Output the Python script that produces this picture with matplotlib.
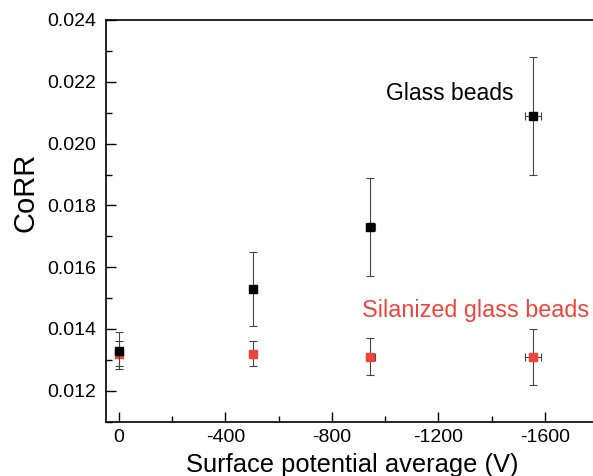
import matplotlib
matplotlib.use("Agg")
import matplotlib.pyplot as plt
from matplotlib.ticker import MultipleLocator

plt.rcParams['font.family'] = ['Liberation Sans', 'DejaVu Sans']

x_glass = [0, -505, -945, -1555]
y_glass = [0.0133, 0.0153, 0.0173, 0.0209]
yerr_glass = [0.0006, 0.0012, 0.0016, 0.0019]
xerr_glass = [8, 8, 18, 30]

x_sil = [0, -505, -945, -1555]
y_sil = [0.0132, 0.0132, 0.0131, 0.0131]
yerr_sil = [0.0004, 0.0004, 0.0006, 0.0009]
xerr_sil = [8, 8, 18, 30]

fig = plt.figure(figsize=(5.93, 4.76), dpi=100)
ax = fig.add_axes([105.7/593, (476-421.7)/476, (598-105.7)/593, (421.7-20)/476])

red = '#F0443A'
ax.errorbar(x_glass, y_glass, yerr=yerr_glass, xerr=xerr_glass, fmt='s', color='black',
            ms=5.2, ecolor='#444444', elinewidth=0.8, capsize=3, capthick=0.8, zorder=3)
ax.errorbar(x_sil, y_sil, yerr=yerr_sil, xerr=xerr_sil, fmt='s', color=red,
            ms=5.2, ecolor='#444444', elinewidth=0.8, capsize=3, capthick=0.8, zorder=2)

ax.set_xlim(50, -1800)
ax.set_ylim(0.011, 0.024)
ax.xaxis.set_major_locator(MultipleLocator(400))
ax.xaxis.set_minor_locator(MultipleLocator(200))
ax.yaxis.set_major_locator(MultipleLocator(0.002))
ax.yaxis.set_minor_locator(MultipleLocator(0.001))
ax.set_yticks([0.012, 0.014, 0.016, 0.018, 0.020, 0.022, 0.024])
ax.set_yticklabels(['0.012', '0.014', '0.016', '0.018', '0.020', '0.022', '0.024'])
ax.set_xticks([0, -400, -800, -1200, -1600])
ax.set_xticklabels(['0', '-400', '-800', '-1200', '-1600'])
ax.tick_params(which='both', direction='in', labelsize=14)
ax.tick_params(which='major', length=7, width=1)
ax.tick_params(which='minor', length=4, width=1)
ax.tick_params(axis='x', pad=5.5)
ax.tick_params(axis='y', pad=7)
for s in ax.spines.values():
    s.set_linewidth(1.2)

ax.set_xlabel('Surface potential average (V)', fontsize=18.4, labelpad=5)
ax.set_ylabel('CoRR', fontsize=21)
ax.yaxis.set_label_coords(-0.135, 0.572)

ax.text(-1243, 0.02163, 'Glass beads', fontsize=16.5, color='black', ha='center', va='center')
ax.text(-1341, 0.0146, 'Silanized glass beads', fontsize=16.8, color=red, ha='center', va='center')

fig.savefig('out.png', dpi=100)
